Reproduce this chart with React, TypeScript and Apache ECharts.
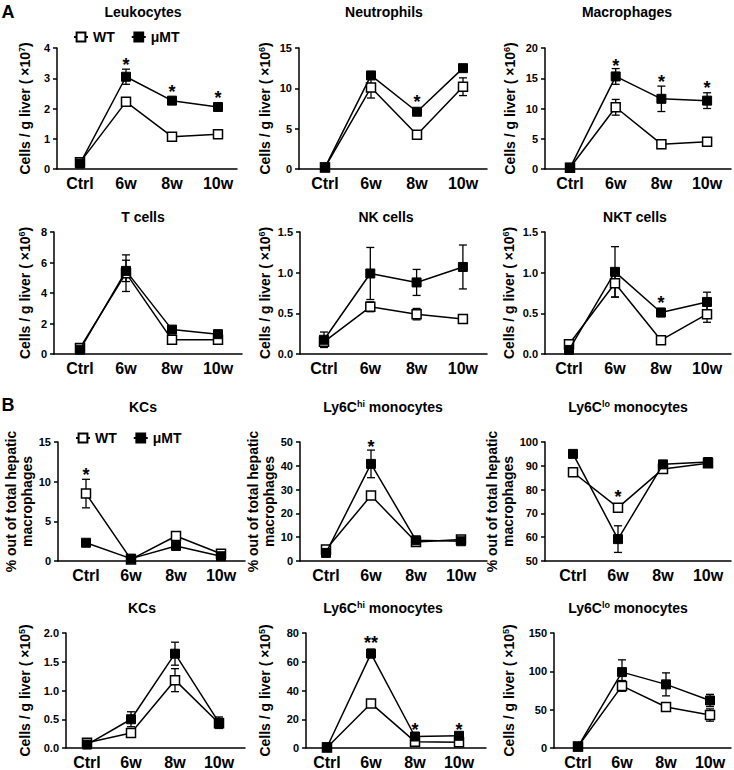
import React, { useEffect, useRef } from 'react';
import * as echarts from 'echarts';

const FONT = '"Liberation Sans", Arial, Helvetica, sans-serif';

const categories = ['Ctrl', '6w', '8w', '10w'];

// ---- Panel A: cells / g liver ----
const leukWT = [0.22, 2.22, 1.07, 1.15];
const leukWTErr = [0.05, 0.12, 0.07, 0.1];
const leukMU = [0.18, 3.05, 2.26, 2.05];
const leukMUErr = [0.05, 0.25, 0.1, 0.05];
const leukStars: [number, number, string][] = [[1, 3.57, '*'], [2, 2.68, '*'], [3, 2.47, '*']];

const neutWT = [0.2, 10.1, 4.25, 10.2];
const neutWTErr = [0.2, 1.3, 0.4, 1.1];
const neutMU = [0.2, 11.6, 7.1, 12.5];
const neutMUErr = [0.1, 0.3, 0.3, 0.3];
const neutStars: [number, number, string][] = [[2, 8.8, '*']];

const macWT = [0.2, 10.2, 4.1, 4.5];
const macWTErr = [0.1, 1.3, 0.7, 0.3];
const macMU = [0.2, 15.3, 11.6, 11.3];
const macMUErr = [0.1, 1.3, 2.1, 1.3];
const macStars: [number, number, string][] = [[1, 17.7, '*'], [2, 15.0, '*'], [3, 14.0, '*']];

const tWT = [0.4, 5.3, 0.93, 0.93];
const tWTErr = [0.15, 1.2, 0.15, 0.2];
const tMU = [0.28, 5.45, 1.6, 1.3];
const tMUErr = [0.1, 0.7, 0.1, 0.25];

const nkWT = [0.15, 0.58, 0.49, 0.43];
const nkWTErr = [0.05, 0.06, 0.07, 0.03];
const nkMU = [0.175, 0.99, 0.88, 1.07];
const nkMUErr = [0.095, 0.32, 0.16, 0.27];

const nktWT = [0.12, 0.87, 0.17, 0.49];
const nktWTErr = [0.03, 0.17, 0.02, 0.1];
const nktMU = [0.05, 1.01, 0.51, 0.64];
const nktMUErr = [0.02, 0.31, 0.05, 0.12];
const nktStars: [number, number, string][] = [[2, 0.68, '*']];

// ---- Panel B: % of hepatic macrophages ----
const kcPctWT = [8.5, 0.2, 3.15, 0.92];
const kcPctWTErr = [1.8, 0.1, 0.3, 0.15];
const kcPctMU = [2.3, 0.3, 1.9, 0.6];
const kcPctMUErr = [0.4, 0.1, 0.15, 0.1];
const kcPctStars: [number, number, string][] = [[0, 11.3, '*']];

const hiPctWT = [4.8, 27.5, 8.0, 9.0];
const hiPctWTErr = [0.8, 1.2, 0.8, 0.8];
const hiPctMU = [3.4, 40.8, 8.7, 8.3];
const hiPctMUErr = [0.8, 5.8, 0.8, 0.8];
const hiPctStars: [number, number, string][] = [[1, 49.6, '*']];

const loPctWT = [87.3, 72.4, 88.7, 91.1];
const loPctWTErr = [1.0, 0.8, 0.6, 0.6];
const loPctMU = [95.0, 59.2, 90.6, 91.6];
const loPctMUErr = [0.4, 5.6, 0.6, 0.6];
const loPctStars: [number, number, string][] = [[1, 78.6, '*']];

// ---- Panel B: cells / g liver ----
const kcCntWT = [0.09, 0.26, 1.18, 0.43];
const kcCntWTErr = [0.03, 0.04, 0.2, 0.08];
const kcCntMU = [0.06, 0.5, 1.64, 0.44];
const kcCntMUErr = [0.02, 0.13, 0.2, 0.1];

const hiCntWT = [0.3, 31, 4.4, 4.0];
const hiCntWTErr = [0.2, 2, 1.5, 2];
const hiCntMU = [0.5, 65.7, 8, 8.5];
const hiCntMUErr = [0.3, 3, 1, 1];
const hiCntStars: [number, number, string][] = [[1, 75.9, '**'], [2, 15.2, '*'], [3, 15.2, '*']];

const loCntWT = [2, 81, 53.5, 43];
const loCntWTErr = [0.5, 7, 3, 8];
const loCntMU = [1.7, 99, 83, 62];
const loCntMUErr = [0.5, 16, 15, 8];

const PCT_NAME = '% out of total hepatic\nmacrophages';
const NONE: [number, number, string][] = [];

const panels = [
  { title: 'Leukocytes', yName: 'cells', yExp: '7', yMin: 0, yMax: 4, yInt: 1, dec: 0, wt: leukWT, wtErr: leukWTErr, mu: leukMU, muErr: leukMUErr, stars: leukStars },
  { title: 'Neutrophils', yName: 'cells', yExp: '6', yMin: 0, yMax: 15, yInt: 5, dec: 0, wt: neutWT, wtErr: neutWTErr, mu: neutMU, muErr: neutMUErr, stars: neutStars },
  { title: 'Macrophages', yName: 'cells', yExp: '6', yMin: 0, yMax: 20, yInt: 5, dec: 0, wt: macWT, wtErr: macWTErr, mu: macMU, muErr: macMUErr, stars: macStars },
  { title: 'T cells', yName: 'cells', yExp: '6', yMin: 0, yMax: 8, yInt: 2, dec: 0, wt: tWT, wtErr: tWTErr, mu: tMU, muErr: tMUErr, stars: NONE },
  { title: 'NK cells', yName: 'cells', yExp: '6', yMin: 0, yMax: 1.5, yInt: 0.5, dec: 1, wt: nkWT, wtErr: nkWTErr, mu: nkMU, muErr: nkMUErr, stars: NONE },
  { title: 'NKT cells', yName: 'cells', yExp: '6', yMin: 0, yMax: 1.5, yInt: 0.5, dec: 1, wt: nktWT, wtErr: nktWTErr, mu: nktMU, muErr: nktMUErr, stars: nktStars },
  { title: 'KCs', yName: 'pct', yExp: '', yMin: 0, yMax: 15, yInt: 5, dec: 0, wt: kcPctWT, wtErr: kcPctWTErr, mu: kcPctMU, muErr: kcPctMUErr, stars: kcPctStars },
  { title: 'Ly6C|hi', yName: 'pct', yExp: '', yMin: 0, yMax: 50, yInt: 10, dec: 0, wt: hiPctWT, wtErr: hiPctWTErr, mu: hiPctMU, muErr: hiPctMUErr, stars: hiPctStars },
  { title: 'Ly6C|lo', yName: 'pct', yExp: '', yMin: 50, yMax: 100, yInt: 10, dec: 0, wt: loPctWT, wtErr: loPctWTErr, mu: loPctMU, muErr: loPctMUErr, stars: loPctStars },
  { title: 'KCs', yName: 'cells', yExp: '5', yMin: 0, yMax: 2, yInt: 0.5, dec: 1, wt: kcCntWT, wtErr: kcCntWTErr, mu: kcCntMU, muErr: kcCntMUErr, stars: NONE },
  { title: 'Ly6C|hi', yName: 'cells', yExp: '5', yMin: 0, yMax: 80, yInt: 20, dec: 0, wt: hiCntWT, wtErr: hiCntWTErr, mu: hiCntMU, muErr: hiCntMUErr, stars: hiCntStars },
  { title: 'Ly6C|lo', yName: 'cells', yExp: '5', yMin: 0, yMax: 150, yInt: 50, dec: 0, wt: loCntWT, wtErr: loCntWTErr, mu: loCntMU, muErr: loCntMUErr, stars: NONE },
];

// Layout (pixels): y-axis x, first category x, category spacing, x-axis end, plot top/bottom, name gap, title centre
const layouts = [
  { left: 57, c0: 80, sp: 46, end: 237, top: 48, bottom: 169, nameGap: 24, tx: 143, ty: 12 },
  { left: 299, c0: 325, sp: 46, end: 487, top: 48, bottom: 169, nameGap: 26, tx: 384, ty: 12 },
  { left: 545, c0: 570, sp: 45.7, end: 731, top: 48, bottom: 169, nameGap: 27, tx: 627, ty: 12 },
  { left: 54, c0: 80, sp: 46, end: 242, top: 232, bottom: 354, nameGap: 21, tx: 143, ty: 217 },
  { left: 300, c0: 324, sp: 46.3, end: 487, top: 232, bottom: 354, nameGap: 27, tx: 386, ty: 217 },
  { left: 545, c0: 569, sp: 46, end: 731, top: 232, bottom: 354, nameGap: 28, tx: 635, ty: 217 },
  { left: 58, c0: 86, sp: 45, end: 245, top: 442, bottom: 561, nameGap: 21, tx: 143, ty: 407 },
  { left: 300, c0: 326, sp: 45, end: 487, top: 442, bottom: 561, nameGap: 23, tx: 383, ty: 407 },
  { left: 545, c0: 573, sp: 45, end: 731, top: 442, bottom: 561, nameGap: 24, tx: 628, ty: 407 },
  { left: 66, c0: 87, sp: 44, end: 245, top: 633, bottom: 749, nameGap: 33, tx: 142, ty: 608 },
  { left: 306, c0: 327, sp: 44, end: 486, top: 633, bottom: 749, nameGap: 33, tx: 383, ty: 608 },
  { left: 554, c0: 578, sp: 44, end: 731, top: 633, bottom: 749, nameGap: 37, tx: 628, ty: 608 },
];

const AXIS_LINE = { color: '#000', width: 1.5 };

function errorBarRender(params: any, api: any) {
  const x = api.value(0);
  const v = api.value(1);
  const e = api.value(2);
  const top = api.coord([x, v + e]);
  const bot = api.coord([x, v - e]);
  const hw = 4;
  const st = { stroke: '#000', lineWidth: 1.3 };
  return {
    type: 'group',
    children: [
      { type: 'line', shape: { x1: top[0], y1: top[1], x2: bot[0], y2: bot[1] }, style: st },
      { type: 'line', shape: { x1: top[0] - hw, y1: top[1], x2: top[0] + hw, y2: top[1] }, style: st },
      { type: 'line', shape: { x1: bot[0] - hw, y1: bot[1], x2: bot[0] + hw, y2: bot[1] }, style: st },
    ],
  };
}

function buildOption() {
  const grid: any[] = [];
  const xAxis: any[] = [];
  const yAxis: any[] = [];
  const series: any[] = [];
  const graphic: any[] = [];

  panels.forEach((p, i) => {
    const L = layouts[i];
    grid.push({ left: L.left, top: L.top, width: L.end - L.left, height: L.bottom - L.top });
    xAxis.push({
      type: 'value',
      gridIndex: i,
      min: -(L.c0 - L.left) / L.sp,
      max: (L.end - L.c0) / L.sp,
      splitLine: { show: false },
      axisTick: { show: false },
      axisLine: { show: true, onZero: false, lineStyle: AXIS_LINE },
      axisLabel: {
        customValues: [0, 1, 2, 3],
        formatter: (v: number) => categories[Math.round(v)] ?? '',
        color: '#000',
        fontSize: 16,
        fontWeight: 'bold',
        fontFamily: FONT,
        margin: 6,
      },
    });
    const name = p.yName === 'pct' ? PCT_NAME : `{a|Cells / g liver ( ×10}{s|${p.yExp}}{a|)}`;
    yAxis.push({
      type: 'value',
      gridIndex: i,
      min: p.yMin,
      max: p.yMax,
      interval: p.yInt,
      name,
      nameLocation: 'middle',
      nameGap: L.nameGap,
      nameTextStyle: {
        color: '#000',
        fontSize: 14,
        fontWeight: 'bold',
        fontFamily: FONT,
        lineHeight: 16,
        rich: {
          a: { color: '#000', fontSize: 14, fontWeight: 'bold', fontFamily: FONT, lineHeight: 16 },
          s: { color: '#000', fontSize: 9, fontWeight: 'bold', fontFamily: FONT, lineHeight: 10, verticalAlign: 'top' },
        },
      },
      splitLine: { show: false },
      axisLine: { show: true, onZero: false, lineStyle: AXIS_LINE },
      axisTick: { show: true, length: 4, lineStyle: AXIS_LINE },
      axisLabel: {
        color: '#000',
        fontSize: 11,
        fontWeight: 'bold',
        fontFamily: FONT,
        margin: 7,
        formatter: (v: number) => v.toFixed(p.dec),
      },
    });

    series.push({
      type: 'custom',
      name: 'wtErr' + i,
      xAxisIndex: i,
      yAxisIndex: i,
      data: p.wt.map((v, k) => [k, v, p.wtErr[k]]),
      renderItem: errorBarRender,
      z: 2,
      silent: true,
    });
    series.push({
      type: 'custom',
      name: 'muErr' + i,
      xAxisIndex: i,
      yAxisIndex: i,
      data: p.mu.map((v, k) => [k, v, p.muErr[k]]),
      renderItem: errorBarRender,
      z: 2,
      silent: true,
    });
    series.push({
      type: 'line',
      name: 'WT',
      xAxisIndex: i,
      yAxisIndex: i,
      data: p.wt.map((v, k) => [k, v]),
      symbol: 'rect',
      symbolSize: 9,
      showAllSymbol: true,
      itemStyle: { color: '#fff', borderColor: '#000', borderWidth: 1.5 },
      lineStyle: { color: '#000', width: 1.5 },
      z: 3,
      silent: true,
    });
    series.push({
      type: 'line',
      name: 'μMT',
      xAxisIndex: i,
      yAxisIndex: i,
      data: p.mu.map((v, k) => [k, v]),
      symbol: 'rect',
      symbolSize: 9,
      showAllSymbol: true,
      itemStyle: { color: '#000', borderColor: '#000', borderWidth: 1 },
      lineStyle: { color: '#000', width: 1.5 },
      z: 4,
      silent: true,
    });
    if (p.stars.length) {
      const st = p.stars;
      series.push({
        type: 'custom',
        name: 'stars' + i,
        xAxisIndex: i,
        yAxisIndex: i,
        data: st.map((s) => [s[0], s[1]]),
        renderItem: (params: any, api: any) => {
          const c = api.coord([api.value(0), api.value(1)]);
          return {
            type: 'text',
            x: c[0],
            y: c[1] + 4,
            style: {
              text: st[params.dataIndex][2],
              fontSize: 18,
              fontWeight: 'bold',
              fontFamily: FONT,
              fill: '#000',
              align: 'center',
              verticalAlign: 'middle',
              textAlign: 'center',
              textVerticalAlign: 'middle',
            },
          };
        },
        z: 5,
        silent: true,
      });
    }

    // titles
    const parts = p.title.split('|');
    const titleText = parts.length > 1 ? `{b|${parts[0]}}{s|${parts[1]}}{b| monocytes}` : `{b|${p.title}}`;
    graphic.push({
      type: 'text',
      x: L.tx,
      y: L.ty,
      silent: true,
      style: {
        text: titleText,
        rich: {
          b: { fontSize: 14, fontWeight: 'bold', fontFamily: FONT, fill: '#000', lineHeight: 16 },
          s: { fontSize: 9, fontWeight: 'bold', fontFamily: FONT, fill: '#000', lineHeight: 10, verticalAlign: 'top' },
        },
        align: 'center',
        verticalAlign: 'middle',
        textAlign: 'center',
        textVerticalAlign: 'middle',
      },
    });
  });

  graphic.push({
    type: 'text', x: 8, y: 12, silent: true,
    style: { text: 'A', fontSize: 18, fontWeight: 'bold', fontFamily: FONT, fill: '#000', align: 'center', verticalAlign: 'middle', textAlign: 'center', textVerticalAlign: 'middle' },
  });
  graphic.push({
    type: 'text', x: 8, y: 405, silent: true,
    style: { text: 'B', fontSize: 18, fontWeight: 'bold', fontFamily: FONT, fill: '#000', align: 'center', verticalAlign: 'middle', textAlign: 'center', textVerticalAlign: 'middle' },
  });

  const legendBase = {
    itemWidth: 14,
    itemHeight: 11,
    itemGap: 16,
    padding: 0,
    selectedMode: false,
    data: ['WT', 'μMT'],
    textStyle: { color: '#000', fontSize: 14, fontWeight: 'bold', fontFamily: FONT },
  };

  return {
    animation: false,
    backgroundColor: '#fff',
    grid,
    xAxis,
    yAxis,
    series,
    graphic,
    legend: [
      { ...legendBase, left: 73, top: 30 },
      { ...legendBase, left: 75, top: 431 },
    ],
  };
}

export default function App() {
  const ref = useRef<HTMLDivElement>(null);
  useEffect(() => {
    const chart = echarts.init(ref.current!, null, { renderer: 'svg' });
    chart.setOption(buildOption() as any);
    return () => chart.dispose();
  }, []);
  return (
    <div
      ref={ref}
      style={{ position: 'absolute', left: 0, top: 0, width: 734, height: 770, background: '#fff' }}
    />
  );
}
